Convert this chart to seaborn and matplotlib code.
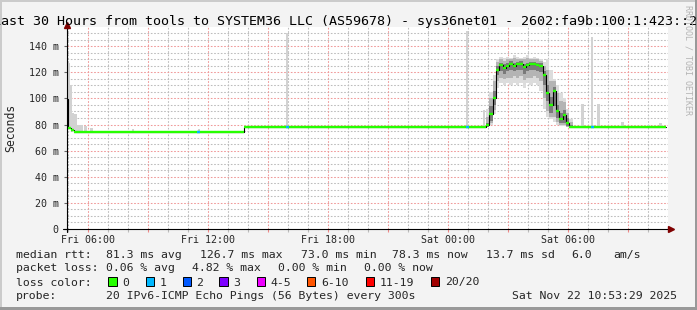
import numpy as np
import pandas as pd
import seaborn as sns
import matplotlib
matplotlib.use("Agg")
import matplotlib.pyplot as plt
from matplotlib.patches import Rectangle

# ---------------- data (clock hours since Fri 00:00, values in ms) ----------------
t_start, t_end = 4.92, 34.9

med_t = [4.92, 4.97, 5.12, 5.27, 13.80,
         25.88, 26.05, 26.22, 26.38, 26.55, 26.72, 26.88, 27.05, 27.22, 27.38,
         27.55, 27.72, 27.88, 28.05, 28.22, 28.38, 28.55, 28.72, 28.88, 29.05,
         29.22, 29.38, 29.55, 29.72, 29.88, 30.05, 34.90]
med_v = [99.5, 77.0, 76.0, 74.0, 78.5,
         79.5, 88.0, 100.0, 122.0, 125.5, 123.0, 124.5, 126.4, 124.8, 126.0,
         126.7, 123.8, 125.6, 126.3, 126.1, 125.6, 124.9, 118.0, 104.0, 95.0,
         106.0, 90.0, 84.0, 87.0, 81.5, 78.5, 78.5]

# smoke (ping spread) during the latency event
smk_t = [25.88, 26.05, 26.22, 26.38, 26.55, 26.72, 26.88, 27.05, 27.22, 27.38,
         27.55, 27.72, 27.88, 28.05, 28.22, 28.38, 28.55, 28.72, 28.88, 29.05,
         29.22, 29.38, 29.55, 29.72, 29.88, 30.05, 30.22]
out_lo = [78, 80, 88, 108, 112, 110, 112, 110, 112, 110, 112, 108, 112, 110, 112,
          110, 106, 92, 86, 84, 82, 80, 79, 79, 78, 78, 78]
out_hi = [92, 105, 118, 130, 132, 131, 132, 131, 133, 132, 131, 132, 133, 131, 132,
          131, 130, 128, 130, 122, 115, 110, 104, 100, 92, 84, 78]
mid_lo = [78, 81, 91, 113, 116, 115, 116, 116, 117, 116, 117, 114, 116, 116, 117,
          116, 113, 100, 90, 86, 86, 82, 79.5, 79.5, 78.5, 78, 78]
mid_hi = [86, 100, 113, 128, 130, 129, 130, 130, 131, 130, 130, 130, 131, 130, 130,
          130, 129, 125, 122, 113, 113, 104, 98, 97, 89, 82, 78]
in_lo = [78.5, 83, 95, 118, 121, 119, 121, 122, 121, 122, 122, 119, 121, 122, 122,
         121, 120, 110, 98, 89, 94, 85, 81, 81, 79, 78, 78]
in_hi = [81, 94, 106, 125, 127.5, 126, 127, 128.5, 127, 128, 128.5, 126, 127.5, 128,
         128, 127.5, 127, 121, 110, 101, 109, 95, 89, 91, 85, 80, 78]

# isolated smoke spikes
bump_t = [4.95, 5.05, 5.15, 5.30, 5.45, 5.60, 5.80, 6.10, 8.17, 11.48, 15.86,
          24.86, 25.72, 30.65, 31.11, 31.45, 32.65, 33.95, 34.55]
bump_lo = [90, 77, 76, 74, 74, 74, 74, 74, 74, 74, 78.5, 78.5, 78.5, 78.5, 78.5,
           78.5, 78.5, 78.5, 78.5]
bump_hi = [127, 110, 89, 88, 80, 79.5, 79, 77, 76.5, 76.5, 150, 152, 91, 96, 147,
           96, 82, 80, 81]

# packet loss (1/20) moments
loss_t = [11.43, 15.86, 24.86, 31.11]
loss_v = [74.0, 78.5, 78.5, 78.5]

x_ticks = [6, 12, 18, 24, 30]
x_labels = ["Fri 06:00", "Fri 12:00", "Fri 18:00", "Sat 00:00", "Sat 06:00"]
y_ticks = [0, 20, 40, 60, 80, 100, 120, 140]
y_labels = ["0", "20 m", "40 m", "60 m", "80 m", "100 m", "120 m", "140 m"]

loss_names = ["0", "1", "2", "3", "4-5", "6-10", "11-19", "20/20"]
loss_cols = ["#26ff00", "#00b8ff", "#0059ff", "#7e00ff", "#ee00ff", "#ff5500",
             "#ff0000", "#a10000"]

# ---------------- figure ----------------
sns.set_theme(style="white")
plt.rcParams["font.family"] = ["DejaVu Sans Mono", "DejaVu Sans"]

W, H = 697, 310
BG = "#f3f3f3"
fig = plt.figure(figsize=(W / 100, H / 100), dpi=100, facecolor=BG)


def fx(px):
    return px / W


def fy(py):
    return 1 - py / H


ax = fig.add_axes([fx(66.7), fy(229), 601 / W, 202 / H])
ax.set_facecolor("white")
ax.set_xlim(t_start, t_start + 30.05)
ax.set_ylim(0, 202 / 1.3057)
for s in ax.spines.values():
    s.set_visible(False)

# grid
ax.set_axisbelow(True)
xmaj = [h for h in range(6, 35, 3)]
xmin = [h for h in range(5, 35) if h % 3 != 0]
ymaj = list(range(0, 160, 20))
ymin = [v for v in range(5, 155, 5) if v % 20 != 0]
dot = (0, (1.6, 1.6))
for h in xmin:
    ax.axvline(h, color="#bdbdbd", lw=0.75, ls=dot, zorder=0)
for v in ymin:
    ax.axhline(v, color="#bdbdbd", lw=0.75, ls=dot, zorder=0)
for h in xmaj:
    ax.axvline(h, color="#f09a9a", lw=0.75, ls=dot, zorder=0)
for v in ymaj[1:]:
    ax.axhline(v, color="#f09a9a", lw=0.75, ls=dot, zorder=0)

# smoke
ax.fill_between(smk_t, out_lo, out_hi, step="post", color="#dcdcdc", lw=0, zorder=1)
ax.fill_between(smk_t, mid_lo, mid_hi, step="post", color="#b4b4b4", lw=0, zorder=1.1)
ax.fill_between(smk_t, in_lo, in_hi, step="post", color="#7a7a7a", lw=0, zorder=1.2)
ax.bar(bump_t, np.array(bump_hi) - np.array(bump_lo), bottom=bump_lo, width=0.11,
       color="#d2d2d2", lw=0, align="edge", zorder=1)

# median line
df = pd.DataFrame({"t": med_t, "v": med_v})
sns.lineplot(data=df, x="t", y="v", drawstyle="steps-post", color="black", lw=0.8,
             estimator=None, sort=False, ax=ax, zorder=2)
ax.hlines(med_v[:-1], med_t[:-1], med_t[1:], color=loss_cols[0], lw=1.7, zorder=3)
ax.hlines(loss_v, loss_t, np.array(loss_t) + 0.17, color=loss_cols[1], lw=1.7, zorder=4)
ax.set_xlabel("")
ax.set_ylabel("")

# ticks
ax.set_xticks(xmaj)
ax.set_xticklabels([x_labels[x_ticks.index(h)] if h in x_ticks else "" for h in xmaj])
ax.set_xticks(xmin, minor=True)
ax.set_yticks(y_ticks)
ax.set_yticklabels(y_labels)
ax.tick_params(axis="x", which="major", direction="out", length=2.5, width=0.8,
               color="#ee8888", pad=2.0, labelsize=7.2, bottom=True)
ax.tick_params(axis="x", which="minor", direction="out", length=2, width=0.8,
               color="#bbbbbb", bottom=True)
ax.tick_params(axis="y", which="major", direction="out", length=2.5, width=0.8,
               color="#666666", pad=3.2, labelsize=7.2, left=True)

# axes with arrows
ax.plot([-0.006, 1.004], [0, 0], transform=ax.transAxes, color="black", lw=0.8,
        clip_on=False, zorder=5)
ax.plot([1.006], [0], marker=">", ms=4.5, color="#7f0000", transform=ax.transAxes,
        clip_on=False, zorder=6)
ax.plot([0, 0], [-0.015, 1.005], transform=ax.transAxes, color="black", lw=0.8,
        clip_on=False, zorder=5)
ax.plot([0], [1.01], marker="^", ms=4.5, color="#7f0000", transform=ax.transAxes,
        clip_on=False, zorder=6)

# texts
fig.text(fx(345), fy(24.5), "Last 30 Hours from tools to SYSTEM36 LLC (AS59678) - "
         "sys36net01 - 2602:fa9b:100:1:423::2", ha="center", va="baseline",
         fontsize=9.6, color="black")
fig.text(fx(10.8), fy(127.7), "Seconds", rotation=90, ha="center", va="center",
         fontsize=8.3)
fig.text(fx(688), fy(60), "RRDTOOL / TOBI OETIKER", rotation=270, ha="center",
         va="center", fontsize=6, color="#b4b4b4")

LF = 8.25
rows = [
    (257.8, [(16.7, "median rtt:"), (107.3, "81.3 ms avg"), (201.3, "126.7 ms max"),
             (301.7, "73.0 ms min"), (393.3, "78.3 ms now"), (486.7, "13.7 ms sd"),
             (572.3, "6.0"), (614.0, "am/s")]),
    (271.3, [(16.7, "packet loss:"), (107.3, "0.06 % avg"), (192.7, "4.82 % max"),
             (279.3, "0.00 % min"), (365.0, "0.00 % now")]),
    (285.5, [(16.7, "loss color:")]),
    (299.0, [(16.7, "probe:"), (107.3, "20 IPv6-ICMP Echo Pings (56 Bytes) every 300s"),
             (513.3, "Sat Nov 22 10:53:29 2025")]),
]
for yb, items in rows:
    for xp, s in items:
        fig.text(fx(xp - 0.8), fy(yb), s, ha="left", va="baseline", fontsize=LF)

box_x = [108.3, 145.7, 182.7, 219.3, 256.7, 306.7, 365.7, 430.7]
lab_x = [123.3, 160.7, 197.0, 234.0, 271.3, 322.0, 380.7, 446.0]
for bx, lx, name, c in zip(box_x, lab_x, loss_names, loss_cols):
    fig.patches.append(Rectangle((fx(bx), fy(286)), 8.3 / W, 8.8 / H,
                                 transform=fig.transFigure, facecolor=c,
                                 edgecolor="black", lw=0.7))
    fig.text(fx(lx - 0.8), fy(285.5), name, ha="left", va="baseline", fontsize=LF)

# 3D frame
fig.patches.append(Rectangle((0, 0), fx(2), 1, transform=fig.transFigure,
                             facecolor="#cbcbcb", lw=0))
fig.patches.append(Rectangle((0, fy(2)), 1, 2 / H, transform=fig.transFigure,
                             facecolor="#cbcbcb", lw=0))
fig.patches.append(Rectangle((fx(694.5), 0), 2.5 / W, 1, transform=fig.transFigure,
                             facecolor="#999999", lw=0))
fig.patches.append(Rectangle((0, 0), 1, 3 / H, transform=fig.transFigure,
                             facecolor="#999999", lw=0))

fig.savefig("out.png", dpi=100, facecolor=BG)
